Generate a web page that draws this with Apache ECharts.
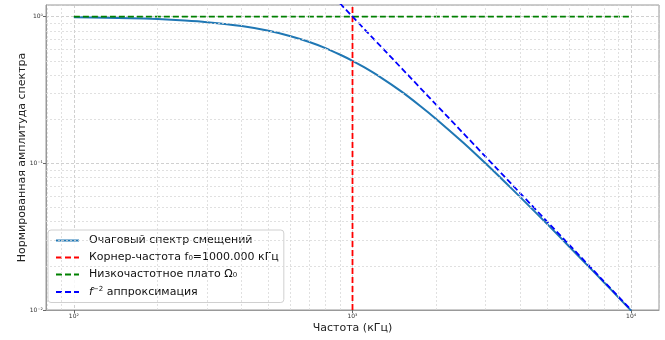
<!DOCTYPE html>
<html><head><meta charset="utf-8">
<script src="https://cdn.jsdelivr.net/npm/echarts@6/dist/echarts.min.js"></script>
<style>html,body{margin:0;padding:0;background:#fff}#c{width:665px;height:340px}</style>
</head><body><div id="c"></div>
<script>
// Data
const freq = [100,130,160,200,250,300,400,500,600,700,800,900,1000,1100,1250,1500,1750,2000,2500,3000,3500,4000,5000,6000,7000,8000,9000,10000];
const spectrum = [0.990,0.983,0.975,0.962,0.941,0.917,0.862,0.800,0.735,0.671,0.610,0.552,0.500,0.452,0.390,0.308,0.246,0.200,0.138,0.100,0.0755,0.0588,0.0385,0.0270,0.0200,0.0154,0.0122,0.0099];
const plateauX = [100, 10000];
const plateauY = [1, 1];
const cornerX = [1000, 1000];
const cornerY = [0.01, 1.2];
const approxX = [900, 10000];
const approxY = [1.235, 0.01];
const xMinor = [80,90,200,300,400,500,600,700,800,900,2000,3000,4000,5000,6000,7000,8000,9000];
const yMinor = [0.02,0.03,0.04,0.05,0.06,0.07,0.08,0.09,0.2,0.3,0.4,0.5,0.6,0.7,0.8,0.9];
const legendNames = ['Очаговый спектр смещений','Корнер-частота f₀=1000.000 кГц','Низкочастотное плато Ω₀','f⁻² аппроксимация'];

const sup = {'0':'⁰','1':'¹','2':'²','3':'³','4':'⁴','-':'⁻'};
function powLabel(v){
  const e = Math.log10(v);
  const r = Math.round(e);
  if (Math.abs(e - r) > 1e-6) return '';
  return '10' + String(r).split('').map(c=>sup[c]).join('');
}
const zip = (a,b)=>a.map((x,i)=>[x,b[i]]);
const FONT = 'DejaVu Sans';
const chart = echarts.init(document.getElementById('c'));
const minorStyle = {color:'#d9d9d9', type:[2,2], width:0.8};
chart.setOption({
  animation:false,
  grid:{left:46,right:6,top:5,bottom:30,show:true,borderColor:'#999',borderWidth:1},
  xAxis:{type:'log',logBase:10,min:Math.pow(10,1.9),max:Math.pow(10,4.1),
    name:'Частота (кГц)',nameLocation:'middle',nameGap:13,nameMoveOverlap:false,
    nameTextStyle:{fontFamily:FONT,fontSize:11,color:'#222'},
    axisLine:{lineStyle:{color:'#999'}},
    axisTick:{show:true,inside:false,length:3,lineStyle:{color:'#666'}},
    axisLabel:{fontFamily:FONT,fontSize:6,color:'#333',margin:3,showMinLabel:false,showMaxLabel:false,formatter:powLabel},
    splitLine:{show:true,lineStyle:{color:'#c4c4c4',type:[3,2],width:0.8}}},
  yAxis:{type:'log',logBase:10,min:0.01,max:1.2,
    name:'Нормированная амплитуда спектра',nameLocation:'middle',nameGap:18,nameMoveOverlap:false,
    nameTextStyle:{fontFamily:FONT,fontSize:11,color:'#222'},
    axisLine:{show:true,lineStyle:{color:'#999'}},
    axisTick:{show:true,inside:false,length:3,lineStyle:{color:'#666'}},
    axisLabel:{fontFamily:FONT,fontSize:6,color:'#333',margin:3,showMaxLabel:false,formatter:powLabel},
    splitLine:{show:true,lineStyle:{color:'#c4c4c4',type:[3,2],width:0.8}}},
  legend:{data:legendNames,
    orient:'vertical',left:48,top:230,
    itemWidth:23,itemHeight:11,itemGap:6,padding:[5,5,5,7],
    itemStyle:{opacity:0},
    backgroundColor:'rgba(255,255,255,0.85)',borderColor:'#d0d0d0',borderWidth:1,borderRadius:3,
    textStyle:{fontFamily:FONT,fontSize:11,color:'#111',padding:[0,0,0,5],
      rich:{i:{fontStyle:'italic',fontFamily:FONT,fontSize:11,color:'#111'},s:{fontFamily:FONT,fontSize:7,color:'#111',verticalAlign:'top',padding:[0,0,5,0]},n:{fontFamily:FONT,fontSize:11,color:'#111'}}},
    formatter:function(n){ if(n===legendNames[3]) return '{i|f}{s|−2} {n|аппроксимация}'; return n; }},
  series:[
    {type:'line',name:'_minor',silent:true,data:[],symbol:'none',
      markLine:{silent:true,symbol:'none',label:{show:false},lineStyle:minorStyle,animation:false,
        data:xMinor.map(v=>({xAxis:v})).concat(yMinor.map(v=>({yAxis:v})))}},
    {type:'line',name:legendNames[0],data:zip(freq,spectrum),symbol:'none',smooth:0.3,
      lineStyle:{color:'#1f77b4',width:2,type:'solid'},itemStyle:{color:'#1f77b4'},z:3},
    {type:'line',name:legendNames[1],data:zip(cornerX,cornerY),symbol:'none',
      lineStyle:{color:'#ff0000',width:1.8,type:[6,3]},itemStyle:{color:'#ff0000'},z:4},
    {type:'line',name:legendNames[2],data:zip(plateauX,plateauY),symbol:'none',
      lineStyle:{color:'#008000',width:1.8,type:[6,3]},itemStyle:{color:'#008000'},z:4},
    {type:'line',name:legendNames[3],data:zip(approxX,approxY),symbol:'none',
      lineStyle:{color:'#0000ff',width:1.8,type:[6,3]},itemStyle:{color:'#0000ff'},z:4}
  ]
});
</script></body></html>
